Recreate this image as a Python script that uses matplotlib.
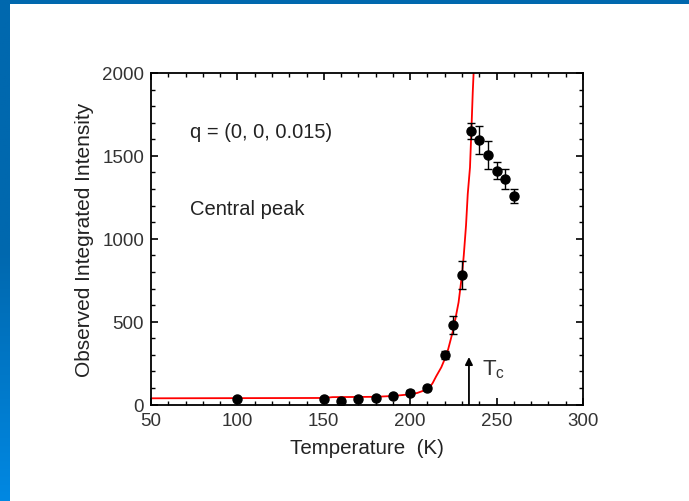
import numpy as np
import matplotlib
matplotlib.use('Agg')
from matplotlib import pyplot as plt
from matplotlib.colors import LinearSegmentedColormap

#   measured points
temp = [100, 150, 160, 170, 180, 190, 200, 210, 220, 225, 230, 235, 240, 245, 250, 255, 260]
intensity = [35, 35, 20, 35, 40, 50, 72, 100, 300, 482, 783, 1650, 1594, 1505, 1411, 1361, 1258]
err = [12, 12, 12, 12, 12, 12, 15, 12, 22, 55, 85, 50, 85, 85, 50, 62, 42]

#   fitted curve
fit_t = [50, 150, 155, 180, 190, 200, 204, 208, 211, 213, 215, 218, 220, 222, 225, 228,
         230, 231, 232.3, 233.3, 234.6, 235.4, 236.2, 236.9]
fit_i = [38, 40, 45, 47, 52, 62, 70, 85, 100, 130, 170, 225, 275, 335, 455, 617,
         785, 900, 1080, 1270, 1430, 1650, 1884, 2050]

TC = 234
FONT = 'Liberation Sans'


def main():

    plt.rcParams['font.family'] = [FONT, 'DejaVu Sans']

    fig = plt.figure(figsize=(6.89, 5.02), dpi=100)
    fig.patch.set_facecolor('white')

    #   blue frame: top strip and left strip with gradient
    top = fig.add_axes([0, 1 - 5 / 502, 1, 5 / 502])
    top.set_facecolor('#0068ae')
    top.set_xticks([])
    top.set_yticks([])
    for s in top.spines.values():
        s.set_visible(False)

    left = fig.add_axes([0, 0, 10 / 689, 1])
    cmap = LinearSegmentedColormap.from_list('edge', ['#0068ae', '#0068ae', '#0088e2'])
    grad = np.linspace(0, 1, 256).reshape(-1, 1)
    left.imshow(grad, aspect='auto', cmap=cmap)
    left.axis('off')

    ax = fig.add_axes([151 / 689, 1 - 405.6 / 502, 432 / 689, 331.6 / 502])

    ax.plot(fit_t, fit_i, color='#ff0000', lw=1.3, zorder=2)
    ax.errorbar(temp, intensity, yerr=err, fmt='o', color='black', ms=6.5,
                elinewidth=1.0, capsize=3, capthick=1.0, zorder=3)

    #   Tc arrow
    ax.annotate('', xy=(TC, 287), xytext=(TC, 0),
                arrowprops=dict(arrowstyle='-|>', color='black', lw=1.3,
                                mutation_scale=11, shrinkA=0, shrinkB=0))
    ax.text(241.3, 185, r'T$_\mathregular{c}$', fontsize=16, color='#333333')

    ax.text(72.5, 1645, 'q = (0, 0, 0.015)', fontsize=14.5, va='center', color='#222222')
    ax.text(72.5, 1180, 'Central peak', fontsize=14.5, va='center', color='#222222')

    ax.set_xlim(50, 300)
    ax.set_ylim(0, 2000)
    ax.set_xticks(np.arange(50, 301, 50))
    ax.set_xticks(np.arange(50, 301, 10), minor=True)
    ax.set_yticks(np.arange(0, 2001, 500))
    ax.set_yticks(np.arange(0, 2001, 100), minor=True)
    ax.tick_params(which='both', direction='in', top=True, right=True,
                   labelsize=13.5, labelcolor='#333333')
    ax.tick_params(which='major', length=5, width=1.2, pad=5)
    ax.tick_params(which='minor', length=3, width=1.0)
    for s in ax.spines.values():
        s.set_linewidth(1.3)

    ax.set_xlabel('Temperature  (K)', fontsize=14.8, color='#222222', labelpad=7)
    ax.set_ylabel('Observed Integrated Intensity', fontsize=15, color='#222222', labelpad=6)

    fig.savefig('out.png', dpi=100)

    return

if __name__ == '__main__':
    main()
